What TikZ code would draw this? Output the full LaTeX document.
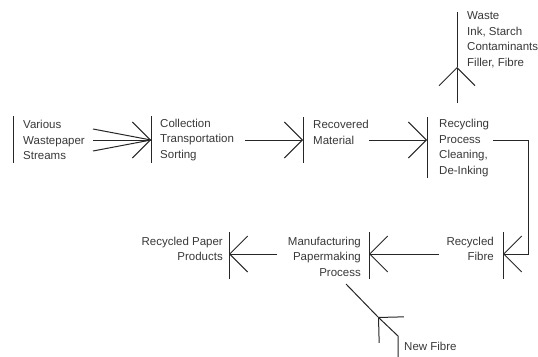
\documentclass[tikz,border=0pt]{standalone}
\usepackage{fontspec}
\setmainfont{Liberation Sans}
\usetikzlibrary{arrows.meta}
\definecolor{ink}{HTML}{262626}
\definecolor{txt}{HTML}{383838}
\begin{document}
\begin{tikzpicture}[x=1pt,y=-1pt,
  line/.style={draw=ink,line width=1pt},
  flow/.style={line,-{Straight Barb[length=18pt,width=36pt,line width=1pt]}},
  lbl/.style={inner sep=0pt,text=txt,font=\fontsize{11.5}{15.5}\selectfont},
  lleft/.style={lbl,anchor=west,align=left},
  lright/.style={lbl,anchor=east,align=right}]
\useasboundingbox (0,0) rectangle (538,356);
% bars
\coordinate (b1t) at (13,116); \coordinate (b1b) at (13,163);
\coordinate (b2t) at (151,116); \coordinate (b2b) at (151,163);
\coordinate (b3t) at (303,117); \coordinate (b3b) at (303,163);
\coordinate (b4t) at (427,117); \coordinate (b4b) at (427,178);
\coordinate (b5t) at (503,232); \coordinate (b5b) at (503,279);
\coordinate (b6t) at (369,232); \coordinate (b6b) at (369,279);
\coordinate (b7t) at (229,232); \coordinate (b7b) at (229,279);
\coordinate (wt) at (457,12); \coordinate (wb) at (457,103); \coordinate (wh) at (457,67);
\coordinate (nt) at (398,336); \coordinate (nb) at (398,357);
\foreach \b in {b1,b2,b3,b4,b5,b6,b7} \draw[line] (\b t) -- (\b b);
% labels
\node[lleft] (various) at (23,140) {Various\\Wastepaper\\Streams};
\node[lleft] (collect) at (160,140) {Collection\\Transportation\\Sorting};
\node[lleft] (recov) at (313,132.5) {Recovered\\Material};
\node[lleft] (recyc) at (439,148) {Recycling\\Process\\Cleaning,\\De-Inking};
\node[lleft] (waste) at (467,40) {Waste\\Ink, Starch\\Contaminants\\Filler, Fibre};
\node[lright] (rfibre) at (494,249) {Recycled\\Fibre};
\node[lright] (manuf) at (361,256.5) {Manufacturing\\Papermaking\\Process};
\node[lright] (rpaper) at (223,249) {Recycled Paper\\Products};
\node[lleft] (newf) at (404,346) {New Fibre};
% connector endpoints
\coordinate (s1a) at (93,129); \coordinate (s1b) at (93,140); \coordinate (s1c) at (93,151);
\coordinate (e1) at (151,140);
\coordinate (s2) at (245,140); \coordinate (e2) at (303,140);
\coordinate (s3) at (369,140); \coordinate (e3) at (427,140);
\coordinate (s4) at (493,140); \coordinate (c4a) at (528,140); \coordinate (c4b) at (528,254); \coordinate (e4) at (503,254);
\coordinate (s5) at (439,254); \coordinate (e5) at (369,254);
\coordinate (s6) at (277,254); \coordinate (e6) at (229,254);
\coordinate (nh) at (378,317); \coordinate (ne) at (346,284);
% connectors
\draw[line] (s1a) -- (e1);
\draw[line] (s1c) -- (e1);
\draw[flow] (s1b) -- (e1);
\draw[flow] (s2) -- (e2);
\draw[flow] (s3) -- (e3);
\draw[flow] (s4) -- (c4a) -- (c4b) -- (e4);
\draw[flow] (s5) -- (e5);
\draw[flow] (s6) -- (e6);
\draw[flow] (wb) -- (wh);
\draw[line] (wh) -- (wt);
\draw[flow] (nb) -- (nt) -- (nh);
\draw[line] (nh) -- (ne);
\end{tikzpicture}
\end{document}
